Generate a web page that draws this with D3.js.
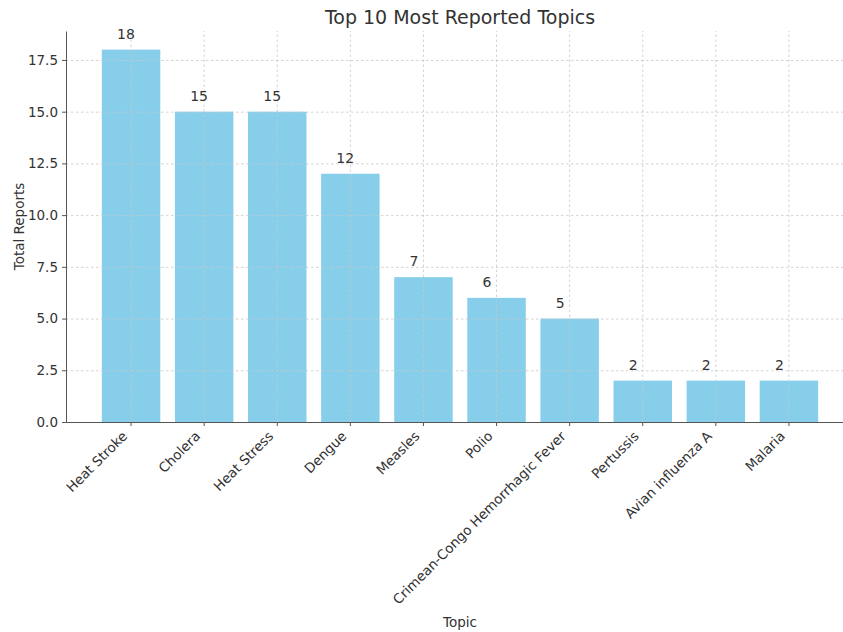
<!DOCTYPE html>
<html>
<head>
<meta charset="utf-8">
<script src="https://cdn.jsdelivr.net/npm/d3@7"></script>
<style>
  body { margin: 0; background: #fff; }
  svg { display: block; font-family: "DejaVu Sans", sans-serif; }
  .grid line { stroke: #c8c8c8; stroke-opacity: 0.8; stroke-dasharray: 2.5,2.5; }
  .grid .domain { display: none; }
  .axis text { fill: #333; font-size: 13.5px; font-family: "DejaVu Sans", sans-serif; }
  .axis line, .axis path { stroke: #555; }
</style>
</head>
<body>
<div id="chart"></div>
<script>
// data
const topics = ["Heat Stroke", "Cholera", "Heat Stress", "Dengue", "Measles", "Polio",
  "Crimean-Congo Hemorrhagic Fever", "Pertussis", "Avian influenza A", "Malaria"];
const reports = [18, 15, 15, 12, 7, 6, 5, 2, 2, 2];
const yTicks = [0, 2.5, 5, 7.5, 10, 12.5, 15, 17.5];

const width = 843, height = 632;
const margin = {top: 31, right: -11, bottom: 210, left: 66};
const innerW = width - margin.left - margin.right;
const innerH = height - margin.top - margin.bottom;

const svg = d3.select("#chart").append("svg")
  .attr("width", width)
  .attr("height", height);

const g = svg.append("g")
  .attr("transform", `translate(${margin.left},${margin.top})`);

const x = d3.scaleBand()
  .domain(topics)
  .range([0, innerW])
  .paddingInner(0.2)
  .paddingOuter(0.49);

const y = d3.scaleLinear()
  .domain([0, d3.max(reports) * 1.05])
  .range([innerH, 0]);

// bars
g.selectAll("rect.bar")
  .data(topics)
  .join("rect")
  .attr("class", "bar")
  .attr("x", d => x(d))
  .attr("y", (d, i) => y(reports[i]))
  .attr("width", x.bandwidth())
  .attr("height", (d, i) => innerH - y(reports[i]))
  .attr("fill", "#87CEEB");

// grid on top of bars, like the original
g.append("g")
  .attr("class", "grid")
  .call(d3.axisLeft(y).tickValues(yTicks).tickSize(-innerW).tickFormat(""));

g.append("g")
  .attr("class", "grid")
  .attr("transform", `translate(0,${innerH})`)
  .call(d3.axisBottom(x).tickSize(-innerH).tickFormat(""));

// axes
g.append("g")
  .attr("class", "axis")
  .call(d3.axisLeft(y).tickValues(yTicks).tickFormat(d3.format(".1f")).tickSize(4).tickPadding(4).tickSizeOuter(0));

const xAxis = g.append("g")
  .attr("class", "axis")
  .attr("transform", `translate(0,${innerH})`)
  .call(d3.axisBottom(x).tickSize(4).tickSizeOuter(0));

xAxis.selectAll("text")
  .attr("x", 0)
  .attr("y", 0)
  .attr("dy", 0)
  .attr("text-anchor", "end")
  .attr("transform", "translate(-3,15) rotate(-45)");

// value labels (left-aligned a little before the bar centre, as in the original)
g.selectAll("text.value")
  .data(topics)
  .join("text")
  .attr("class", "value")
  .attr("x", d => x(d) + x.bandwidth() / 2 - 14)
  .attr("y", (d, i) => y(reports[i]) - 11)
  .attr("text-anchor", "start")
  .attr("font-size", 14)
  .attr("fill", "#333")
  .text((d, i) => reports[i]);

// title and axis labels
svg.append("text")
  .attr("x", margin.left + innerW / 2)
  .attr("y", 24)
  .attr("text-anchor", "middle")
  .attr("font-size", 19)
  .attr("fill", "#333")
  .text("Top 10 Most Reported Topics");

svg.append("text")
  .attr("transform", `translate(24,${margin.top + innerH / 2}) rotate(-90)`)
  .attr("text-anchor", "middle")
  .attr("font-size", 13.5)
  .attr("fill", "#333")
  .text("Total Reports");

svg.append("text")
  .attr("x", margin.left + innerW / 2)
  .attr("y", 627)
  .attr("text-anchor", "middle")
  .attr("font-size", 13.5)
  .attr("fill", "#333")
  .text("Topic");
</script>
</body>
</html>
